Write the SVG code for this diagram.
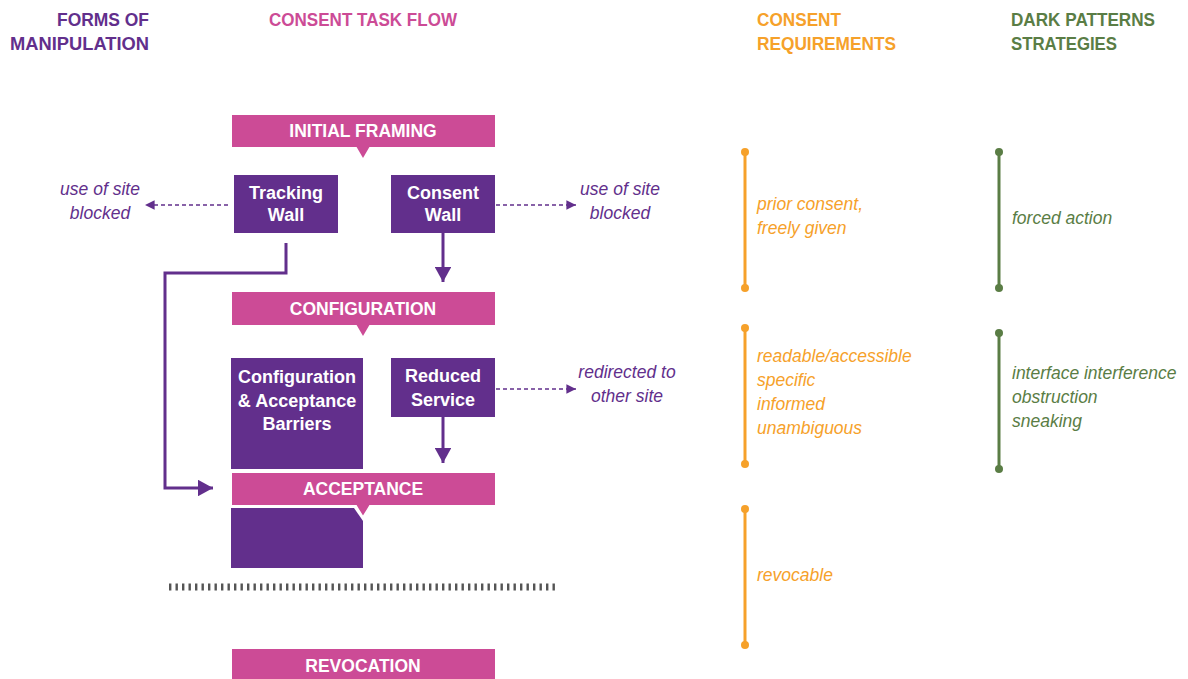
<svg xmlns="http://www.w3.org/2000/svg" width="1188" height="679" viewBox="0 0 1188 679">
<defs>
<style>
.hdr{font-family:"Liberation Sans",Arial,sans-serif;font-weight:bold;font-size:18px}
.bar{fill:#cc4b96}
.bartxt{font-family:"Liberation Sans",Arial,sans-serif;font-weight:bold;font-size:17.5px;fill:#fff;text-anchor:middle}
.box{fill:#622f8c}
.boxtxt{font-family:"Liberation Sans",Arial,sans-serif;font-weight:bold;font-size:18px;fill:#fff;text-anchor:middle}
.it{font-family:"Liberation Sans",Arial,sans-serif;font-style:italic;font-size:17.5px}
.pl{fill:#622f8c;text-anchor:middle}
.or{fill:#f6a12a}
.gr{fill:#5a7d45}
.conn{stroke:#622f8c;stroke-width:3;fill:none}
.dash{stroke:#622f8c;stroke-width:1.6;stroke-dasharray:4 3;fill:none}
</style>
<marker id="ah" viewBox="0 0 10 10" refX="10" refY="5" markerWidth="5" markerHeight="5.5" markerUnits="strokeWidth" orient="auto" preserveAspectRatio="none">
<path d="M0,0 L10,5 L0,10 z" fill="#622f8c"/>
</marker>
<marker id="ahs" viewBox="0 0 10 10" refX="10" refY="5" markerWidth="6" markerHeight="6" markerUnits="strokeWidth" orient="auto">
<path d="M0,0 L10,5 L0,10 z" fill="#622f8c"/>
</marker>
</defs>
<rect width="1188" height="679" fill="#fff"/>

<g id="headers">
<text class="hdr" x="149" y="26" text-anchor="end" fill="#622f8c" textLength="92" lengthAdjust="spacingAndGlyphs">FORMS OF</text>
<text class="hdr" x="149" y="50" text-anchor="end" fill="#622f8c" textLength="139" lengthAdjust="spacingAndGlyphs">MANIPULATION</text>
<text class="hdr" x="269" y="26" fill="#cc4b96" textLength="188" lengthAdjust="spacingAndGlyphs">CONSENT TASK FLOW</text>
<text class="hdr" x="757" y="26" fill="#f6a12a" textLength="84" lengthAdjust="spacingAndGlyphs">CONSENT</text>
<text class="hdr" x="757" y="50" fill="#f6a12a" textLength="139" lengthAdjust="spacingAndGlyphs">REQUIREMENTS</text>
<text class="hdr" x="1011" y="26" fill="#5a7d45" textLength="144" lengthAdjust="spacingAndGlyphs">DARK PATTERNS</text>
<text class="hdr" x="1011" y="50" fill="#5a7d45" textLength="106" lengthAdjust="spacingAndGlyphs">STRATEGIES</text>
</g>

<g id="connectors">
<path class="conn" d="M286,243 V273 H165 V488 H213" marker-end="url(#ah)"/>
<line class="conn" x1="443" y1="233" x2="443" y2="282" marker-end="url(#ah)"/>
<line class="conn" x1="443" y1="417" x2="443" y2="463" marker-end="url(#ah)"/>
<line class="dash" x1="228" y1="205" x2="145" y2="205" marker-end="url(#ahs)"/>
<line class="dash" x1="496" y1="205" x2="576" y2="205" marker-end="url(#ahs)"/>
<line class="dash" x1="496" y1="389" x2="576" y2="389" marker-end="url(#ahs)"/>
</g>

<g id="initial-framing">
<rect class="bar" x="232" y="115" width="263" height="32"/>
<path class="bar" d="M356,146 L370,146 L363,158 z"/>
<text class="bartxt" x="363" y="137">INITIAL FRAMING</text>
</g>

<g id="tracking-wall">
<rect class="box" x="234" y="175" width="104" height="58"/>
<text class="boxtxt" x="286" y="199">Tracking</text>
<text class="boxtxt" x="286" y="221">Wall</text>
</g>

<g id="consent-wall">
<rect class="box" x="391" y="175" width="104" height="58"/>
<text class="boxtxt" x="443" y="199">Consent</text>
<text class="boxtxt" x="443" y="221">Wall</text>
</g>

<g id="blocked-left">
<text class="it pl" x="100" y="195">use of site</text>
<text class="it pl" x="100" y="219">blocked</text>
</g>
<g id="blocked-right">
<text class="it pl" x="620" y="195">use of site</text>
<text class="it pl" x="620" y="219">blocked</text>
</g>

<g id="configuration">
<rect class="bar" x="232" y="292" width="263" height="33"/>
<path class="bar" d="M356,324 L370,324 L363,336 z"/>
<text class="bartxt" x="363" y="315">CONFIGURATION</text>
</g>

<g id="barriers">
<rect class="box" x="231" y="358" width="132" height="111"/>
<text class="boxtxt" x="297" y="383">Configuration</text>
<text class="boxtxt" x="297" y="407">&amp; Acceptance</text>
<text class="boxtxt" x="297" y="430">Barriers</text>
</g>

<g id="reduced-service">
<rect class="box" x="391" y="358" width="104" height="59"/>
<text class="boxtxt" x="443" y="382">Reduced</text>
<text class="boxtxt" x="443" y="406">Service</text>
</g>

<g id="redirected">
<text class="it pl" x="627" y="378">redirected to</text>
<text class="it pl" x="627" y="402">other site</text>
</g>

<g id="acceptance">
<path class="box" d="M231,508 H354 L363,521 V568 H231 z"/>
<path class="bar" d="M355,504 L371,504 L363,517 z" stroke="#fff" stroke-width="1.5" stroke-linejoin="miter"/>
<rect class="bar" x="232" y="473" width="263" height="32"/>
<text class="bartxt" x="363" y="495">ACCEPTANCE</text>
</g>

<g id="divider">
<line x1="169" y1="587" x2="555" y2="587" stroke="#555" stroke-width="7" stroke-dasharray="2.4 4.1"/>
</g>

<g id="revocation">
<rect class="bar" x="232" y="649" width="263" height="32"/>
<text class="bartxt" x="363" y="672">REVOCATION</text>
</g>

<g id="req-1">
<line x1="745" y1="152" x2="745" y2="288" stroke="#f6a12a" stroke-width="3"/>
<circle cx="745" cy="152" r="4" class="or"/>
<circle cx="745" cy="288" r="4" class="or"/>
<text class="it or" x="757" y="210">prior consent,</text>
<text class="it or" x="757" y="234">freely given</text>
</g>
<g id="req-2">
<line x1="745" y1="328" x2="745" y2="464" stroke="#f6a12a" stroke-width="3"/>
<circle cx="745" cy="328" r="4" class="or"/>
<circle cx="745" cy="464" r="4" class="or"/>
<text class="it or" x="757" y="362">readable/accessible</text>
<text class="it or" x="757" y="386">specific</text>
<text class="it or" x="757" y="410">informed</text>
<text class="it or" x="757" y="434">unambiguous</text>
</g>
<g id="req-3">
<line x1="745" y1="509" x2="745" y2="645" stroke="#f6a12a" stroke-width="3"/>
<circle cx="745" cy="509" r="4" class="or"/>
<circle cx="745" cy="645" r="4" class="or"/>
<text class="it or" x="757" y="581">revocable</text>
</g>
<g id="dp-1">
<line x1="999" y1="152" x2="999" y2="288" stroke="#5a7d45" stroke-width="3"/>
<circle cx="999" cy="152" r="4" class="gr"/>
<circle cx="999" cy="288" r="4" class="gr"/>
<text class="it gr" x="1012" y="224">forced action</text>
</g>
<g id="dp-2">
<line x1="999" y1="333" x2="999" y2="469" stroke="#5a7d45" stroke-width="3"/>
<circle cx="999" cy="333" r="4" class="gr"/>
<circle cx="999" cy="469" r="4" class="gr"/>
<text class="it gr" x="1012" y="379">interface interference</text>
<text class="it gr" x="1012" y="403">obstruction</text>
<text class="it gr" x="1012" y="427">sneaking</text>
</g>
</svg>
